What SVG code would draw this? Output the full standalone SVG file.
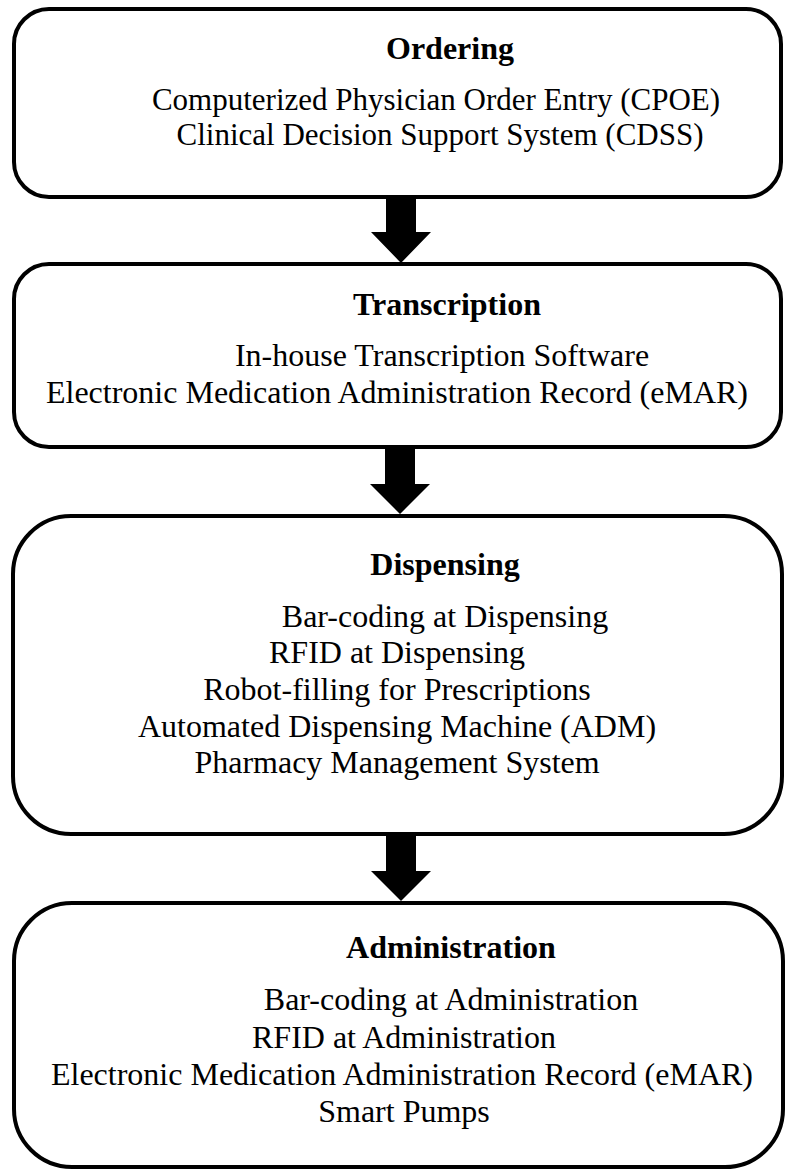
<svg xmlns="http://www.w3.org/2000/svg" width="785" height="1170" viewBox="0 0 785 1170">
<style>
.box{fill:#fff;stroke:#000;stroke-width:4}
.arrow{fill:#000;stroke:none}
.h{font-family:"Liberation Serif","Times New Roman",serif;font-size:32px;font-weight:bold;text-anchor:middle;fill:#000}
.t{font-family:"Liberation Serif","Times New Roman",serif;font-size:32px;text-anchor:middle;fill:#000}
.s{font-size:31px}
</style>
<rect width="785" height="1170" fill="#fff"/>
<g id="connectors">
<polygon class="arrow" points="386,197 416,197 416,232 431,232 401,263 371,232 386,232"/>
<polygon class="arrow" points="385,447 415,447 415,484 430,484 400,514 370,484 385,484"/>
<polygon class="arrow" points="386,834 416,834 416,871 431,871 401,901 371,871 386,871"/>
</g>
<g id="ordering">
<rect class="box" x="14" y="9" width="767" height="188" rx="35" ry="35"/>
<text class="h" x="450" y="59">Ordering</text>
<text class="t s" x="436" y="110">Computerized Physician Order Entry (CPOE)</text>
<text class="t s" x="440" y="145">Clinical Decision Support System (CDSS)</text>
</g>
<g id="transcription">
<rect class="box" x="14" y="264" width="767" height="183" rx="35" ry="35"/>
<text class="h" x="447" y="315">Transcription</text>
<text class="t" x="442" y="366">In-house Transcription Software</text>
<text class="t" x="397" y="403">Electronic Medication Administration Record (eMAR)</text>
</g>
<g id="dispensing">
<rect class="box" x="13" y="516" width="769" height="318" rx="58" ry="58"/>
<text class="h" x="445" y="575">Dispensing</text>
<text class="t" x="445" y="627">Bar-coding at Dispensing</text>
<text class="t" x="397" y="663">RFID at Dispensing</text>
<text class="t" x="397" y="700">Robot-filling for Prescriptions</text>
<text class="t" x="397" y="737">Automated Dispensing Machine (ADM)</text>
<text class="t" x="397" y="773">Pharmacy Management System</text>
</g>
<g id="administration">
<rect class="box" x="14" y="903" width="769" height="264" rx="58" ry="58"/>
<text class="h" x="451" y="958">Administration</text>
<text class="t" x="451" y="1010">Bar-coding at Administration</text>
<text class="t" x="404" y="1048">RFID at Administration</text>
<text class="t" x="402" y="1085">Electronic Medication Administration Record (eMAR)</text>
<text class="t" x="404" y="1122">Smart Pumps</text>
</g>
</svg>
